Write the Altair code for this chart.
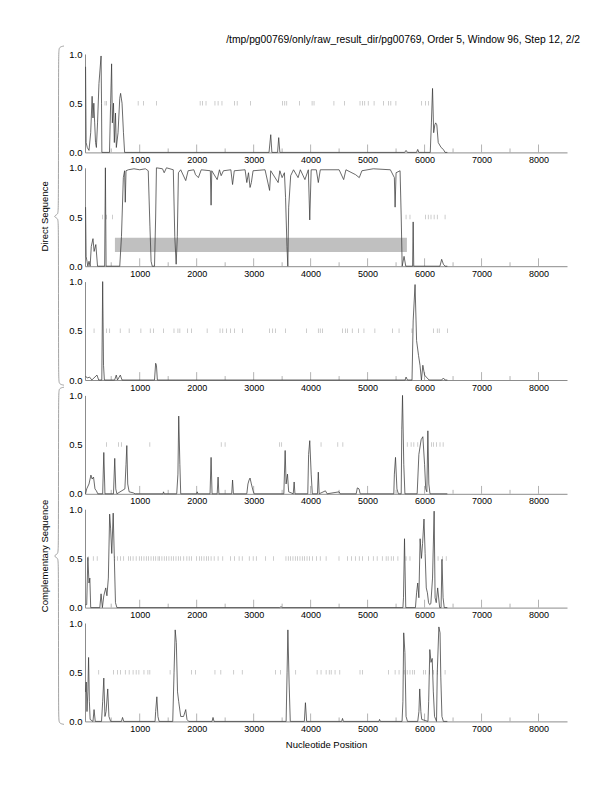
import altair as alt
import pandas as pd

FONT = "Liberation Sans"
TITLE = "/tmp/pg00769/only/raw_result_dir/pg00769, Order 5, Window 96, Step 12, 2/2"
X_MIN, X_MAX = 40, 8500
MAJOR = [1000, 2000, 3000, 4000, 5000, 6000, 7000, 8000]
MINOR = [500, 1500, 2500, 3500, 4500, 5500, 6500, 7500]
PLOT_W, PLOT_H, GAP = 482, 98.4, 14.8

# ---- curves (position, score) ----
P1 = [(50,0.87),(60,0.1),(80,0.05),(110,0.02),(140,0.2),(165,0.57),(180,0.35),(195,0.5),(210,0.3),
      (225,0.1),(240,0.05),(260,0.3),(285,0.7),(322,0.98),(330,0.5),(336,0.0),(470,0.0),(490,0.5),
      (507,0.9),(520,0.3),(540,0.5),(555,0.1),(575,0.4),(590,0.05),(620,0.2),(650,0.55),(665,0.6),
      (690,0.5),(715,0.2),(735,0.0),(3270,0.0),(3300,0.18),(3320,0.0),(3420,0.0),(3440,0.15),
      (3460,0.0),(5650,0.0),(5675,0.02),(5700,0.0),(5860,0.0),(5880,0.03),(5900,0.0),(6100,0.0),
      (6120,0.3),(6140,0.65),(6160,0.2),(6180,0.28),(6195,0.3),(6215,0.28),(6240,0.1),(6290,0.05),
      (6330,0.03),(6360,0.0),(6400,0.0)]
P2 = [(50,0.6),(60,0.1),(75,0.05),(90,0.0),(110,0.05),(130,0.0),(150,0.2),(180,0.28),(200,0.15),
      (230,0.22),(260,0.0),(385,0.0),(398,1.0),(410,0.0),(650,0.0),(680,0.3),(713,0.9),(735,0.97),
      (747,0.65),(760,0.97),(800,0.98),(900,0.99),(1000,0.98),(1100,0.99),(1150,0.97),(1180,0.4),
      (1200,0.05),(1220,0.0),(1260,0.0),(1280,0.5),(1294,1.0),(1400,0.99),(1430,0.95),(1470,1.0),
      (1590,0.98),(1616,0.3),(1640,0.02),(1660,0.3),(1680,0.95),(1720,0.98),(1808,0.87),(1850,0.97),
      (1950,0.98),(1980,0.93),(2030,0.9),(2080,0.98),(2240,0.97),(2253,0.62),(2265,0.97),(2360,0.88),
      (2400,0.98),(2430,0.92),(2470,0.97),(2600,0.98),(2630,0.83),(2660,0.97),(2850,0.98),(2880,0.85),
      (2910,0.95),(2937,0.8),(2960,0.85),(2990,0.97),(3200,0.98),(3280,0.77),(3300,0.97),(3430,0.85),
      (3460,0.97),(3500,0.9),(3540,0.95),(3560,0.7),(3585,0.2),(3600,0.0),(3615,0.6),(3650,0.92),
      (3700,0.98),(3780,0.9),(3820,0.98),(3900,0.88),(3960,0.98),(3985,0.47),(4010,0.98),(4100,0.98),
      (4135,0.85),(4170,0.98),(4500,0.98),(4580,0.88),(4620,0.98),(4790,0.93),(4854,0.9),(4900,0.97),
      (5100,0.99),(5400,0.98),(5470,0.9),(5483,0.6),(5500,0.95),(5570,0.97),(5590,0.5),(5607,0.0),
      (5640,0.1),(5670,0.0),(5790,0.0),(5800,0.45),(5810,0.0),(6270,0.0),(6300,0.07),(6330,0.02),
      (6360,0.0),(6400,0.0)]
P3 = [(50,0.04),(80,0.02),(120,0.03),(160,0.0),(250,0.05),(280,0.0),(335,0.0),(350,1.0),(365,0.15),
      (380,0.0),(560,0.0),(589,0.05),(610,0.0),(640,0.03),(660,0.05),(690,0.0),(1260,0.0),(1280,0.17),
      (1294,0.15),(1310,0.0),(5660,0.0),(5675,0.03),(5700,0.0),(5780,0.0),(5800,0.6),(5833,0.97),
      (5860,0.4),(5894,0.25),(5920,0.15),(5945,0.0),(5970,0.15),(6000,0.05),(6030,0.03),(6080,0.0),
      (6300,0.0),(6330,0.02),(6360,0.0),(6400,0.0)]
P4 = [(50,0.0),(70,0.05),(110,0.1),(144,0.19),(165,0.15),(190,0.17),(215,0.05),(240,0.03),(265,0.0),
      (350,0.0),(370,0.42),(390,0.0),(540,0.0),(562,0.36),(580,0.05),(600,0.0),(740,0.05),(760,0.3),
      (774,0.49),(790,0.1),(815,0.02),(885,0.01),(920,0.0),(1410,0.0),(1418,0.02),(1430,0.0),
      (1650,0.0),(1671,0.2),(1685,0.79),(1705,0.3),(1720,0.0),(2000,0.0),(2010,0.02),(2020,0.0),
      (2235,0.0),(2253,0.37),(2270,0.0),(2360,0.0),(2376,0.17),(2390,0.0),(2615,0.0),(2630,0.14),
      (2645,0.0),(2880,0.0),(2900,0.1),(2920,0.14),(2937,0.16),(2960,0.1),(2990,0.03),(3010,0.0),
      (3530,0.0),(3553,0.44),(3570,0.1),(3594,0.2),(3615,0.02),(3695,0.0),(3711,0.12),(3725,0.0),
      (3950,0.0),(3965,0.4),(3985,0.54),(4010,0.2),(4030,0.0),(4120,0.0),(4135,0.22),(4150,0.0),
      (4260,0.03),(4290,0.0),(4500,0.02),(4520,0.0),(4800,0.0),(4820,0.06),(4850,0.05),(4870,0.0),
      (5460,0.0),(5470,0.2),(5490,0.37),(5515,0.05),(5540,0.0),(5590,0.0),(5600,0.65),(5613,1.0),
      (5635,0.3),(5655,0.0),(5870,0.0),(5900,0.4),(5940,0.55),(5970,0.58),(6000,0.3),(6020,0.05),
      (6040,0.02),(6058,0.64),(6075,0.1),(6095,0.0),(6400,0.0)]
P5 = [(50,0.03),(70,0.03),(90,0.51),(110,0.25),(125,0.3),(140,0.0),(300,0.0),(322,0.14),(345,0.0),
      (370,0.12),(404,0.2),(425,0.12),(450,0.3),(473,0.95),(490,0.8),(510,0.55),(535,0.96),(555,0.5),
      (575,0.05),(600,0.0),(3460,0.0),(3480,0.01),(3500,0.0),(5620,0.0),(5630,0.1),(5648,0.7),
      (5670,0.0),(5840,0.0),(5860,0.15),(5880,0.25),(5900,0.1),(5922,0.7),(5945,0.5),(5965,0.65),
      (5990,0.9),(6010,0.55),(6030,0.2),(6050,0.15),(6070,0.05),(6090,0.03),(6110,0.04),(6140,0.3),
      (6168,0.98),(6185,0.1),(6205,0.05),(6230,0.2),(6265,0.0),(6290,0.0),(6305,0.49),(6325,0.1),
      (6345,0.0),(6400,0.0)]
P6 = [(50,0.3),(62,0.4),(75,0.1),(90,0.3),(103,0.65),(117,0.2),(130,0.02),(180,0.0),(199,0.12),
      (220,0.0),(330,0.0),(350,0.2),(370,0.44),(390,0.05),(410,0.1),(439,0.33),(460,0.05),(490,0.0),
      (680,0.0),(699,0.04),(720,0.0),(1270,0.0),(1280,0.1),(1301,0.25),(1320,0.05),(1340,0.0),
      (1580,0.0),(1603,0.5),(1623,0.93),(1643,0.8),(1664,0.3),(1685,0.2),(1720,0.05),(1770,0.05),
      (1808,0.12),(1830,0.02),(1860,0.0),(2270,0.0),(2287,0.04),(2305,0.0),(3570,0.0),(3587,0.5),
      (3601,0.93),(3622,0.4),(3643,0.0),(3890,0.0),(3909,0.19),(3930,0.0),(4545,0.0),(4560,0.03),
      (4575,0.0),(5200,0.0),(5210,0.02),(5225,0.0),(5605,0.0),(5620,0.2),(5634,0.9),(5655,0.7),
      (5675,0.05),(5700,0.0),(5880,0.0),(5901,0.1),(5915,0.33),(5935,0.1),(5950,0.02),(6060,0.0),
      (6072,0.2),(6092,0.73),(6113,0.6),(6134,0.64),(6154,0.3),(6175,0.05),(6210,0.0),(6223,0.5),
      (6251,0.96),(6272,0.9),(6285,0.45),(6305,0.05),(6330,0.0),(6400,0.0)]

# ---- ORF marks at 0.5 ----
O1 = [391,418,973,1068,1294,2061,2102,2164,2321,2376,2444,2663,2711,2944,3505,3546,3581,3806,4026,
      4060,4409,4594,4867,4909,4950,5011,5114,5278,5367,5408,5497,5949,6017,6072]
O2 = [350,418,521,5675,5744,6017,6065,6113,6168,6223,6360]
O3 = [199,418,473,658,815,1021,1185,1240,1418,1602,1671,1705,1842,1910,2184,2410,2458,2526,2595,
      2663,2807,3279,3334,3382,3560,3930,4135,4169,4210,4559,4614,4648,4731,4840,4936,5128,5436,
      5552,5778,6154,6223,6257,6401]
O4 = [418,630,678,1178,2431,2499,3457,3492,4183,4477,4566,5696,5764,5812,5881,6120,6154,6209,6271,6326]
O5 = [96,185,254,562,610,665,719,801,836,884,938,993,1034,1075,1116,1157,1199,1240,1281,1322,1349,
      1390,1431,1472,1513,1554,1596,1637,1678,1719,1773,1828,1869,1910,2000,2047,2088,2129,2170,2205,
      2253,2307,2376,2458,2595,2663,2745,2800,2923,2992,3047,3211,3348,3567,3608,3649,3690,3731,3772,
      3813,3854,3895,3937,3978,4032,4101,4169,4272,4498,4648,4717,4785,4854,4909,5018,5100,5168,5258,
      5326,5361,5415,5456,5532,5675,5744,6237,6312,6380]
O6 = [281,541,610,665,747,815,884,938,986,1075,1144,1178,1534,1910,1979,2321,2424,2650,2800,3382,
      3471,3738,4114,4183,4272,4327,4361,4429,4512,4867,4909,5367,5483,5552,5641,5696,5744,5792,5826,
      5983,6017,6086,6154,6223,6360]

# highlighted region in panel 2: (start, end, low, high)
REGION = (565, 5690, 0.145, 0.29)

# ---- side braces (decoration, in the side strip's own pixel-like units) ----
SIDE_W = 30
STEP = PLOT_H + GAP
SIDE_H = 6 * PLOT_H + 5 * GAP
JOIN = 2 * STEP + PLOT_H + GAP / 2
BRACES = {
    "direct": (-8, STEP + PLOT_H / 2, JOIN - 1),
    "complementary": (JOIN + 1, 4 * STEP + PLOT_H / 2, SIDE_H + 6),
}
SIDE_LABELS = ["Direct Sequence", "Complementary Sequence"]

AXIS_C = "#8c8c8c"
LINE_C = "#3a3a3a"
ORF_C = "#9a9a9a"

xs = alt.Scale(domain=[X_MIN, X_MAX], nice=False, zero=False)
ys = alt.Scale(domain=[0, 1], nice=False, zero=False)


def panel(curve, orfs, last=False, region=None, title=None):
    xaxis = alt.Axis(values=MAJOR, format="d", ticks=False, labelPadding=3, grid=False,
                     domainColor=AXIS_C, labelFontSize=9, labelFont=FONT, labelColor="black",
                     titleFont=FONT, titleFontSize=9.5, titleFontWeight="normal",
                     titlePadding=6, titleColor="black")
    yaxis = alt.Axis(values=[0, 0.5, 1], format=".1f", ticks=False, labelPadding=3, grid=False,
                     domainColor=AXIS_C, labelFontSize=9.5, labelFont=FONT, labelColor="black")
    xt = "Nucleotide Position" if last else None

    def X(f="pos:Q"):
        return alt.X(f, scale=xs, axis=xaxis, title=xt)

    def Y(f="score:Q"):
        return alt.Y(f, scale=ys, axis=yaxis, title=None)

    cdf = pd.DataFrame(curve, columns=["pos", "score"])
    cdf["k"] = range(len(cdf))
    line = alt.Chart(cdf).mark_line(color=LINE_C, strokeWidth=0.75).encode(
        x=X(), y=Y(), order="k:Q")

    odf = pd.DataFrame({"pos": orfs, "score": [0.5] * len(orfs)})
    orf = alt.Chart(odf).mark_tick(orient="vertical", color=ORF_C, size=4.5, thickness=0.7).encode(
        x=X(), y=Y())

    tdf = pd.DataFrame({"pos": MAJOR + MINOR, "score": [0.0] * 16,
                        "score2": [0.08] * 8 + [0.04] * 8})
    ticks = alt.Chart(tdf).mark_rule(color="#a0a0a0", strokeWidth=0.8).encode(
        x=X(), y=Y(), y2="score2:Q")

    layers = []
    if region is not None:
        rdf = pd.DataFrame({"pos": [region[0]], "pos2": [region[1]],
                            "score": [region[2]], "score2": [region[3]]})
        layers.append(alt.Chart(rdf).mark_rect(color="#c0c0c0").encode(
            x=X(), x2="pos2:Q", y=Y(), y2="score2:Q"))
    layers += [ticks, orf, line]
    props = dict(width=PLOT_W, height=PLOT_H)
    if title is not None:
        props["title"] = alt.TitleParams(title, anchor="end", frame="group", font=FONT,
                                         fontSize=10.3, fontWeight="normal", color="black",
                                         offset=4, dx=13)
    return alt.layer(*layers).properties(**props)


panels = alt.vconcat(
    panel(P1, O1, title=TITLE), panel(P2, O2, region=REGION), panel(P3, O3),
    panel(P4, O4), panel(P5, O5), panel(P6, O6, last=True),
    spacing=GAP, bounds="flush")

# brace path points
rows = []
for name, (t, m, b) in BRACES.items():
    pts = [(26, t), (21, t + 1), (20.5, t + 6), (20.5, m - 6), (20, m - 2), (15, m),
           (20, m + 2), (20.5, m + 6), (20.5, b - 6), (21, b - 1), (26, b)]
    for k, (bx, by) in enumerate(pts):
        rows.append({"brace": name, "k": k, "bx": bx, "by": by})
bdf = pd.DataFrame(rows)
sx = alt.Scale(domain=[0, SIDE_W], nice=False, zero=False)
sy = alt.Scale(domain=[0, SIDE_H], nice=False, zero=False, reverse=True)
brace = alt.Chart(bdf).mark_line(interpolate="basis", color="#8c8c8c", strokeWidth=0.8).encode(
    x=alt.X("bx:Q", scale=sx, axis=None), y=alt.Y("by:Q", scale=sy, axis=None),
    detail="brace:N", order="k:Q")
ldf = pd.DataFrame({"label": SIDE_LABELS, "bx": [7, 7],
                    "by": [v[1] for v in BRACES.values()]})
side_text = alt.Chart(ldf).mark_text(angle=270, font=FONT, fontSize=9.5, color="black").encode(
    x=alt.X("bx:Q", scale=sx, axis=None), y=alt.Y("by:Q", scale=sy, axis=None), text="label:N")
side = alt.layer(brace, side_text).properties(width=SIDE_W, height=SIDE_H)

chart = alt.hconcat(side, panels, spacing=17, bounds="flush").properties(
    padding={"left": 30, "top": 26, "right": 5, "bottom": 5},
).configure_view(strokeWidth=0)

chart.save("out.html", embed_options={"renderer": "svg", "actions": False})
